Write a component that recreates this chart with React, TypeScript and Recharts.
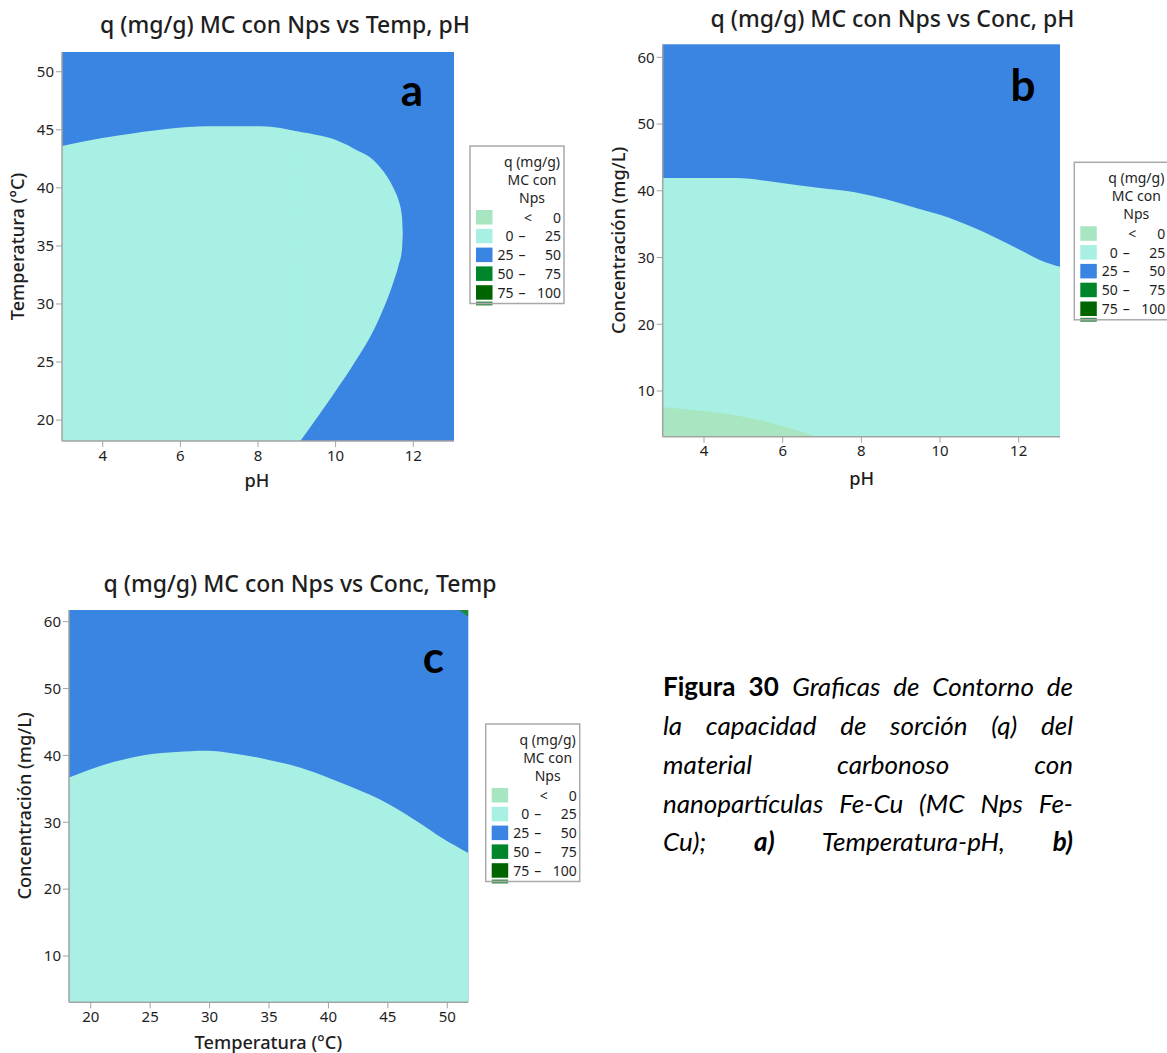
import React from 'react';
import { ComposedChart, Area, XAxis, YAxis, CartesianGrid } from 'recharts';

// ---------- colours ----------
const BLUE = '#3A84E2';
const CYAN = '#A8F0E4';
const LIGHTGREEN = '#A8E6C1';
const GREEN = '#00852B';
const DARKGREEN = '#006400';
const FRAME = '#A3A3A3';
const TXT = '#1e1e1e';
const FONT = "'Noto Sans', 'Open Sans', sans-serif";

// ---------- chart a : Temp vs pH ----------
// left part of the 0-25 region (bottom edge = axis minimum)
const aPHLeft = [2.95, 3.5, 4.4, 5.7, 6.7, 8.07, 9.09];
const aTempUpperLeft = [43.6, 44.0, 44.5, 45.1, 45.3, 45.3, 44.8];
// right bulge of the 0-25 region (between the two branches of the 25 contour)
const aPHRight = [9.0, 9.09, 9.52, 9.94, 10.46, 11.06, 11.53, 11.62, 11.71, 11.73];
const aTempUpperRight = [44.85, 44.8, 44.55, 44.2, 43.4, 42.1, 39.7, 38.95, 37.5, 36.1];
const aTempLowerRight = [17.8, 18.2, 20.2, 22.2, 24.8, 28.3, 32.3, 33.3, 34.7, 36.1];
const aPHDomain = [2.95, 13.05];
const aTempDomain = [18.2, 51.7];
const aPHTicks = [4, 6, 8, 10, 12];
const aTempTicks = [20, 25, 30, 35, 40, 45, 50];

// ---------- chart b : Conc vs pH ----------
const bPH = [2.95, 4.79, 5.93, 6.95, 7.8, 9.41, 10.0, 10.85, 11.95, 12.55, 13.05];
const bConcUpper = [41.9, 41.9, 41.2, 40.4, 39.8, 37.4, 36.4, 34.5, 31.4, 29.6, 28.6];
const bNegPH = [2.95, 3.47, 4.75, 5.6, 6.19, 6.87];
const bNegConcUpper = [7.55, 7.3, 6.4, 5.4, 4.4, 3.15];
const bPHDomain = [2.95, 13.05];
const bConcDomain = [3.15, 61.95];
const bPHTicks = [4, 6, 8, 10, 12];
const bConcTicks = [10, 20, 30, 40, 50, 60];

// ---------- chart c : Conc vs Temp ----------
const cTemp = [18.17, 19.94, 21.9, 24.7, 27.2, 29.7, 32.0, 34.8, 37.6, 40.1, 43.5, 45.2, 47.7, 49.6, 51.77];
const cConcUpper = [36.7, 37.9, 39.0, 40.1, 40.5, 40.7, 40.3, 39.4, 38.2, 36.6, 34.1, 32.6, 29.85, 27.6, 25.4];
const cHighTemp = [51.0, 51.77];
const cHighConcLower = [61.75, 60.75];
const cTempDomain = [18.17, 51.77];
const cConcDomain = [3.07, 61.75];
const cTempTicks = [20, 25, 30, 35, 40, 45, 50];
const cConcTicks = [10, 20, 30, 40, 50, 60];

// ---------- legend ----------
const legendTitle = ['q (mg/g)', 'MC con', 'Nps'];
const legendColors = [LIGHTGREEN, CYAN, BLUE, GREEN, DARKGREEN];
const legendLow = ['', '0', '25', '50', '75'];
const legendHigh = ['0', '25', '50', '75', '100'];

const rangeRows = (xs: number[], lo: number[], hi: number[]) =>
  xs.map((x, i) => ({ x, r: [lo[i], hi[i]] }));
const constRow = (xs: number[], v: number) => xs.map(() => v);

type Layer = { data: { x: number; r: number[] }[]; color: string };

const tickStyle = { fill: TXT, fontSize: 15, fontFamily: FONT };

function Contour(props: {
  left: number; top: number; width: number; height: number;
  mTop: number; mRight: number; yW: number; xH: number;
  xDomain: number[]; yDomain: number[]; xTicks: number[]; yTicks: number[];
  layers: Layer[];
}) {
  const p = props;
  return (
    <div style={{ position: 'absolute', left: p.left, top: p.top }}>
      <ComposedChart width={p.width} height={p.height}
        margin={{ top: p.mTop, right: p.mRight, bottom: 0, left: 0 }}>
        <CartesianGrid fill={BLUE} fillOpacity={1} stroke="none" horizontal={false} vertical={false} />
        {p.layers.map((l, i) => (
          <Area key={i} data={l.data} dataKey="r" type="monotone" stroke="none"
            fill={l.color} fillOpacity={1} isAnimationActive={false} dot={false} activeDot={false} />
        ))}
        <XAxis type="number" dataKey="x" domain={p.xDomain} ticks={p.xTicks} interval={0}
          allowDataOverflow height={p.xH} tickSize={6} tickMargin={3}
          axisLine={{ stroke: FRAME, strokeWidth: 1.5 }} tickLine={{ stroke: FRAME }} tick={tickStyle} />
        <YAxis type="number" domain={p.yDomain} ticks={p.yTicks} interval={0}
          allowDataOverflow width={p.yW} tickSize={6} tickMargin={2}
          axisLine={{ stroke: FRAME, strokeWidth: 1.5 }} tickLine={{ stroke: FRAME }} tick={tickStyle} />
        <XAxis xAxisId="top" orientation="top" type="number" domain={p.xDomain} allowDataOverflow
          height={0} tick={false} tickLine={false} axisLine={{ stroke: FRAME, strokeWidth: 1.5 }} />
        <YAxis yAxisId="right" orientation="right" type="number" domain={p.yDomain} allowDataOverflow
          width={0} tick={false} tickLine={false} axisLine={{ stroke: FRAME, strokeWidth: 1.5 }} />
      </ComposedChart>
    </div>
  );
}

function LegendBox({ x, y }: { x: number; y: number }) {
  return (
    <g fontFamily={FONT} fontSize={14} fill={TXT}>
      <rect x={x + 6} y={y + 155.5} width={16.5} height={4} fill="#3F9152" />
      <rect x={x} y={y} width={94} height={157.5} fill="#fff" fillOpacity={0} stroke="#A9A9A9" strokeWidth={1.5} />
      {legendTitle.map((t, i) => (
        <text key={t} x={x + 62} y={y + 20.5 + i * 18} textAnchor="middle">{t}</text>
      ))}
      {legendColors.map((c, i) => {
        const ry = y + 64 + i * 18.8;
        return (
          <g key={i}>
            <rect x={x + 6} y={ry} width={16.5} height={14.5} fill={c} />
            {i === 0
              ? <text x={x + 58} y={ry + 12.5} textAnchor="middle">{'<'}</text>
              : <>
                  <text x={x + 43.5} y={ry + 12.5} textAnchor="end">{legendLow[i]}</text>
                  <text x={x + 52} y={ry + 12.5} textAnchor="middle">{'–'}</text>
                </>}
            <text x={x + 91} y={ry + 12.5} textAnchor="end">{legendHigh[i]}</text>
          </g>
        );
      })}
    </g>
  );
}

const capLine: React.CSSProperties = {
  height: 38.8, textAlign: 'justify', textAlignLast: 'justify' as any,
};

export default function App() {
  const aLayers: Layer[] = [
    { data: rangeRows(aPHLeft, constRow(aPHLeft, aTempDomain[0]), aTempUpperLeft), color: CYAN },
    { data: rangeRows(aPHRight, aTempLowerRight, aTempUpperRight), color: CYAN },
  ];
  const bLayers: Layer[] = [
    { data: rangeRows(bPH, constRow(bPH, bConcDomain[0]), bConcUpper), color: CYAN },
    { data: rangeRows(bNegPH, constRow(bNegPH, bConcDomain[0]), bNegConcUpper), color: LIGHTGREEN },
  ];
  const cLayers: Layer[] = [
    { data: rangeRows(cTemp, constRow(cTemp, cConcDomain[0]), cConcUpper), color: CYAN },
    { data: rangeRows(cHighTemp, cHighConcLower, constRow(cHighTemp, cConcDomain[1])), color: '#1F8A33' },
  ];

  return (
    <div style={{ position: 'absolute', left: 0, top: 0, width: 1167, height: 1053, background: '#fff', overflow: 'hidden' }}>
      <Contour left={0} top={0} width={470} height={500} mTop={52} mRight={16} yW={62} xH={59}
        xDomain={aPHDomain} yDomain={aTempDomain} xTicks={aPHTicks} yTicks={aTempTicks} layers={aLayers} />
      <Contour left={600} top={0} width={470} height={500} mTop={44.3} mRight={10} yW={62.7} xH={63.3}
        xDomain={bPHDomain} yDomain={bConcDomain} xTicks={bPHTicks} yTicks={bConcTicks} layers={bLayers} />
      <Contour left={0} top={560} width={480} height={493} mTop={50} mRight={11.7} yW={69} xH={50.7}
        xDomain={cTempDomain} yDomain={cConcDomain} xTicks={cTempTicks} yTicks={cConcTicks} layers={cLayers} />

      <svg width={1167} height={1053} style={{ position: 'absolute', left: 0, top: 0, pointerEvents: 'none' }}>
        <g fontFamily={FONT} fontWeight={500} fontSize={23} fill={TXT} textAnchor="middle">
          <text x={285} y={33.3}>q (mg/g) MC con Nps vs Temp, pH</text>
          <text x={892.5} y={26.7}>q (mg/g) MC con Nps vs Conc, pH</text>
          <text x={300} y={591.7}>q (mg/g) MC con Nps vs Conc, Temp</text>
        </g>
        <g fontFamily="Lato, sans-serif" fontWeight={700} fontSize={44} fill="#000" textAnchor="middle">
          <text x={412} y={106}>a</text>
          <text x={1023} y={100.7}>b</text>
          <text x={433.3} y={673.3}>c</text>
        </g>
        <g fontFamily={FONT} fontWeight={500} fontSize={18.2} fill={TXT} textAnchor="middle">
          <text x={257} y={486.7}>pH</text>
          <text x={861.7} y={485}>pH</text>
          <text x={268.3} y={1049.3}>Temperatura (°C)</text>
          <text x={24} y={246.5} transform="rotate(-90 24 246.5)">Temperatura (°C)</text>
          <text x={624.7} y={240.5} transform="rotate(-90 624.7 240.5)">Concentración (mg/L)</text>
          <text x={31} y={806} transform="rotate(-90 31 806)">Concentración (mg/L)</text>
        </g>
        <LegendBox x={470} y={146} />
        <LegendBox x={1074.3} y={162.3} />
        <LegendBox x={485.7} y={724} />
      </svg>

      <div style={{ position: 'absolute', left: 663, top: 667.2, width: 410, fontFamily: 'Lato, sans-serif', fontSize: 26, lineHeight: '38.8px', color: '#000' }}>
        <div style={capLine}><b>Figura 30</b> <i>Graficas de Contorno de</i></div>
        <div style={capLine}><i>la capacidad de sorción (q) del</i></div>
        <div style={capLine}><i>material carbonoso con</i></div>
        <div style={capLine}><i>nanopartículas Fe-Cu (MC Nps Fe-</i></div>
        <div style={capLine}><i>Cu); <b>a)</b> Temperatura-pH, <b>b)</b></i></div>
      </div>
    </div>
  );
}
